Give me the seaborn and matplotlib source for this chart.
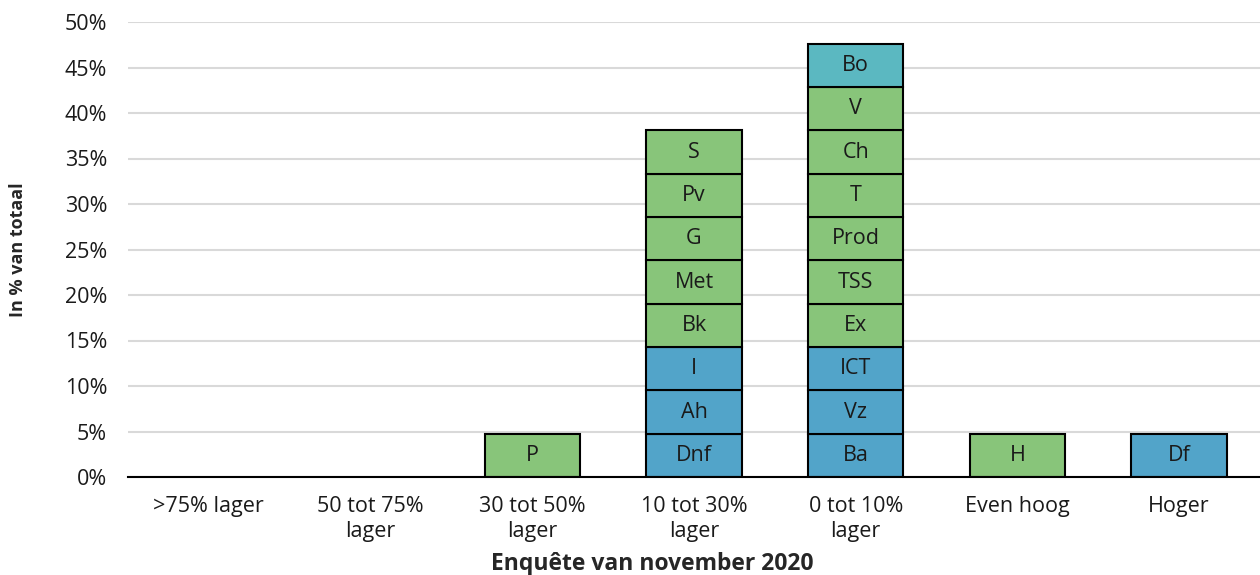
import matplotlib
matplotlib.use("Agg")
import matplotlib.pyplot as plt
import seaborn as sns
import pandas as pd
from matplotlib.ticker import FuncFormatter, FixedLocator

categories = [">75% lager", "50 tot 75%\nlager", "30 tot 50%\nlager",
              "10 tot 30%\nlager", "0 tot 10%\nlager", "Even hoog", "Hoger"]

seg_category = [2,
                3, 3, 3, 3, 3, 3, 3, 3,
                4, 4, 4, 4, 4, 4, 4, 4, 4, 4,
                5, 6]
seg_label = ["P",
             "Dnf", "Ah", "I", "Bk", "Met", "G", "Pv", "S",
             "Ba", "Vz", "ICT", "Ex", "TSS", "Prod", "T", "Ch", "V", "Bo",
             "H", "Df"]
seg_group = ["green",
             "blue", "blue", "blue", "green", "green", "green", "green", "green",
             "blue", "blue", "blue", "green", "green", "green", "green", "green", "green", "teal",
             "green", "blue"]
seg_value = [4.76] * 21

palette = {"blue": "#52a4c9", "green": "#88c57a", "teal": "#5bb8c1"}

sns.set_theme(style="white")
plt.rcParams["font.family"] = ["Open Sans", "DejaVu Sans"]

df = pd.DataFrame({"cat": [categories[i] for i in seg_category],
                   "label": seg_label, "group": seg_group, "value": seg_value})
df["bottom"] = df.groupby("cat")["value"].cumsum() - df["value"]

fig = plt.figure(figsize=(12.6, 5.75), dpi=100)
ax = fig.add_axes([128 / 1260, 1 - 477 / 575, 1 - 128 / 1260, (477 - 22) / 575])

for _, r in df.iterrows():
    sub = pd.DataFrame({"cat": [r["cat"]], "value": [r["value"]]})
    sns.barplot(data=sub, x="cat", y="value", order=categories, ax=ax,
                color=palette[r["group"]], saturation=1, width=0.59,
                edgecolor="black", linewidth=1.5, bottom=r["bottom"], zorder=3)
    ax.text(categories.index(r["cat"]), r["bottom"] + r["value"] / 2, r["label"],
            ha="center", va="center", fontsize=15.5, color="#1a1a1a", zorder=4)

ax.set_xlim(-0.5, 6.5)
ax.set_ylim(0, 50)
ax.yaxis.set_major_locator(FixedLocator(list(range(0, 51, 5))))
ax.yaxis.set_major_formatter(FuncFormatter(lambda v, p: f"{int(v)}%"))
ax.grid(axis="y", color="#d9d9d9", linewidth=1.5, zorder=0)
ax.set_axisbelow(True)
for s in ["top", "right", "left"]:
    ax.spines[s].set_visible(False)
ax.spines["bottom"].set_color("black")
ax.spines["bottom"].set_linewidth(1.5)
ax.spines["bottom"].set_zorder(5)

ax.set_xticks(range(len(categories)))
ax.set_xticklabels(categories, fontsize=15.5, color="#1a1a1a", linespacing=1.25)
ax.tick_params(axis="x", which="major", length=0, pad=14)
ax.set_xticks([i - 0.5 for i in range(len(categories) + 1)], minor=True)
ax.tick_params(axis="x", which="minor", length=5, width=1.2, color="#333333", direction="out")
ax.tick_params(axis="y", labelsize=15.5, length=0, pad=15, labelcolor="#1a1a1a")

ax.set_xlabel("Enquête van november 2020", fontsize=16.5, fontweight="bold", labelpad=0)
ax.set_ylabel("In % van totaal", fontsize=13, fontweight="bold")
ax.yaxis.set_label_coords(-0.089, 0.5)
ax.xaxis.set_label_coords(0.463, -0.165)

fig.savefig("out.png", dpi=100)
